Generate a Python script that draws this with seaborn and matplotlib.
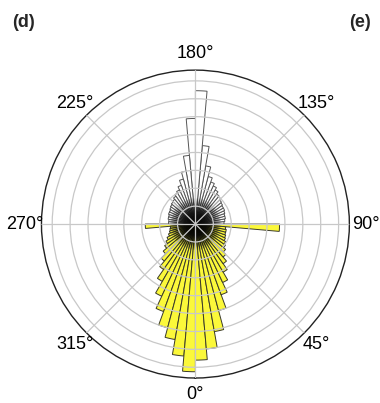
import numpy as np
import matplotlib
matplotlib.use("Agg")
import matplotlib.pyplot as plt
import seaborn as sns

sns.set_theme(style="white")
plt.rcParams['font.family'] = ['Liberation Sans', 'DejaVu Sans']

# bin start angles (degrees) and bar lengths
bin_deg = list(range(0, 360, 5))
counts = [7.6, 7.0, 6.1, 5.0, 4.2, 3.6, 3.1, 2.7, 2.4, 2.2,
          2.05, 1.95, 1.85, 1.8, 1.75, 1.75, 1.7, 4.7,
          1.6, 1.65, 1.7, 1.7, 1.75, 1.8, 1.8, 1.85, 1.9, 2.0,
          2.05, 2.2, 2.35, 2.5, 2.75, 3.3, 4.4, 7.45,
          5.9, 3.85, 3.0, 2.6, 2.3, 2.1, 2.0, 1.9, 1.8, 1.75,
          1.7, 1.65, 1.6, 1.6, 1.55, 1.55, 1.5, 1.5,
          2.8, 1.4, 1.45, 1.5, 1.6, 1.75, 1.9, 2.1, 2.35, 2.7,
          3.1, 3.7, 4.45, 5.2, 6.0, 6.55, 7.4, 8.25]
tick_angles = [0, 45, 90, 135, 180, 225, 270, 315]
tick_labels = ["0°", "45°", "90°", "135°", "180°", "225°", "270°", "315°"]
ring_values = [1, 2, 3, 4, 5, 6, 7, 8]
r_max = 8.6

bin_deg = np.array(bin_deg)
counts = np.array(counts)
is_yellow = (bin_deg < 90) | (bin_deg >= 270)

fig = plt.figure(figsize=(3.8, 4.03), dpi=100)
ax = fig.add_axes([0.109, 0.062, 0.8105, 0.764], projection='polar')
ax.set_theta_zero_location('S')
ax.set_theta_direction(1)

width = np.deg2rad(5)
ax.bar(np.deg2rad(bin_deg[is_yellow]), counts[is_yellow], width=width, align='edge',
       color='#fbf83a', edgecolor='#3a3a2a', linewidth=0.7, zorder=2)
ax.bar(np.deg2rad(bin_deg[~is_yellow]), counts[~is_yellow], width=width, align='edge',
       color='white', edgecolor='#555555', linewidth=0.7, zorder=2)

# dark shading where the many bar outlines converge at the centre
shade_radii = np.linspace(1.45, 0.05, 28)
ax.bar(np.zeros_like(shade_radii), shade_radii, width=2 * np.pi, align='edge',
       color='black', alpha=0.075, linewidth=0, zorder=2.5)

ax.set_ylim(0, r_max)
ax.set_yticks(ring_values)
ax.set_yticklabels([])
ax.set_thetagrids(tick_angles, tick_labels)
ax.tick_params(axis='x', pad=-1, labelsize=13, colors='black')
ax.grid(True, color='#c8c8c8', linewidth=0.9, zorder=3)
ax.set_axisbelow(False)
ax.spines['polar'].set_color('#222222')
ax.spines['polar'].set_linewidth(1.0)

fig.text(0.032, 0.945, "(d)", fontsize=13, fontweight='bold', ha='left', va='center')
fig.text(0.92, 0.945, "(e)", fontsize=13, fontweight='bold', ha='left', va='center')

fig.savefig("out.png", dpi=100, facecolor='white')
